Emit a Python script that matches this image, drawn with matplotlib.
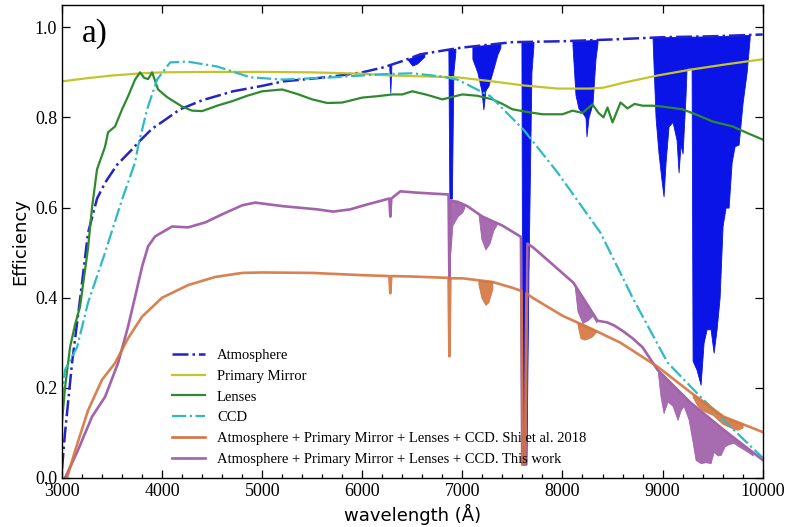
"""Throughput of the telescope chain: atmosphere, mirror, lenses, CCD."""

import matplotlib

matplotlib.use("Agg")

import matplotlib.pyplot as plt
from matplotlib.lines import Line2D
from matplotlib.ticker import MultipleLocator
import numpy as np


# Atmosphere continuum (dash-dot) and its absorption bands (floors)
ATM_WAVE = [3000, 3030, 3100, 3180, 3260, 3350, 3430, 3550, 3700, 3760, 3900, 4000,
            4180, 4400, 4710, 5000, 5210, 5500, 5710, 6000, 6210, 6400, 6580, 6880,
            7000, 7500, 8000, 8500, 9000, 9500, 10000]
ATM_EFF = [0.02, 0.10, 0.255, 0.396, 0.544, 0.62, 0.655, 0.695, 0.729, 0.744, 0.775, 0.79,
           0.818, 0.838, 0.858, 0.870, 0.88, 0.886, 0.891, 0.90, 0.911, 0.925, 0.94, 0.951,
           0.955, 0.967, 0.969, 0.973, 0.978, 0.98, 0.984]

ATM_BAND_WAVES = [
    [6270, 6280, 6290],
    [6450, 6500, 6550, 6620],
    [6860, 6870, 6895, 6910, 6930],
    [7100, 7150, 7190, 7210, 7230, 7260, 7300, 7350, 7380],
    [7590, 7600, 7640, 7660, 7690, 7710],
    [8100, 8130, 8160, 8200, 8230, 8240, 8260, 8300, 8330, 8350],
    [8900, 8930, 8960, 8990, 9010, 9030, 9060, 9100, 9140, 9160, 9180, 9200, 9230,
     9240, 9290, 9300, 9340, 9380, 9410, 9440, 9480, 9510, 9540, 9570, 9600, 9630,
     9660, 9690, 9720, 9760, 9800, 9840, 9870],
]
ATM_BAND_FLOORS = [
    [0.91, 0.855, 0.91],
    [0.93, 0.915, 0.92, 0.935],
    [0.95, 0.62, 0.62, 0.90, 0.945],
    [0.93, 0.90, 0.86, 0.818, 0.86, 0.87, 0.90, 0.94, 0.955],
    [0.96, 0.03, 0.03, 0.45, 0.90, 0.96],
    [0.96, 0.85, 0.82, 0.81, 0.80, 0.758, 0.80, 0.83, 0.93, 0.965],
    [0.975, 0.80, 0.72, 0.66, 0.625, 0.70, 0.78, 0.79, 0.75, 0.678, 0.74, 0.72, 0.85,
     0.91, 0.91, 0.26, 0.24, 0.207, 0.30, 0.33, 0.33, 0.278, 0.33, 0.40, 0.56, 0.60,
     0.60, 0.70, 0.736, 0.74, 0.833, 0.90, 0.975],
]

MIRROR_WAVE = [3000, 3250, 3500, 3800, 4000, 4500, 5000, 5500, 6000, 6280, 6950, 7300,
               7610, 7950, 8280, 8410, 8610, 8950, 9280, 9610, 10000]
MIRROR_EFF = [0.88, 0.887, 0.893, 0.898, 0.90, 0.901, 0.901, 0.90, 0.897, 0.893, 0.889,
              0.88, 0.871, 0.864, 0.864, 0.866, 0.877, 0.893, 0.906, 0.917, 0.929]

LENS_WAVE = [2990, 3030, 3080, 3130, 3180, 3260, 3300, 3350, 3430, 3460, 3530, 3600,
             3660, 3730, 3780, 3820, 3860, 3900, 3960, 4050, 4200, 4300, 4400, 4550,
             4700, 4850, 5000, 5200, 5350, 5500, 5650, 5800, 6000, 6150, 6300, 6400,
             6500, 6650, 6800, 7000, 7150, 7300, 7400, 7500, 7650, 7800, 8000, 8100,
             8200, 8300, 8360, 8410, 8450, 8500, 8580, 8650, 8720, 8800, 8900, 9000,
             9200, 9350, 9500, 9700, 9850, 10000]
LENS_EFF = [0.10, 0.20, 0.29, 0.34, 0.38, 0.51, 0.60, 0.685, 0.735, 0.767, 0.78, 0.818,
            0.847, 0.884, 0.90, 0.888, 0.885, 0.90, 0.862, 0.845, 0.824, 0.815, 0.814, 0.826,
            0.836, 0.848, 0.858, 0.862, 0.852, 0.84, 0.832, 0.833, 0.844, 0.847, 0.851, 0.851,
            0.858, 0.85, 0.84, 0.851, 0.848, 0.84, 0.83, 0.818, 0.812, 0.807, 0.807, 0.815,
            0.81, 0.829, 0.81, 0.80, 0.822, 0.789, 0.833, 0.82, 0.83, 0.826, 0.826, 0.824,
            0.818, 0.805, 0.791, 0.78, 0.765, 0.751]

CCD_WAVE = [3000, 3030, 3150, 3260, 3430, 3600, 3730, 3760, 3850, 3950, 4080, 4250,
            4550, 4880, 5210, 5710, 6210, 6500, 6780, 6950, 7280, 7610, 7950, 8380,
            8710, 9050, 9380, 9710, 10000]
CCD_EFF = [0.17, 0.24, 0.29, 0.389, 0.50, 0.618, 0.70, 0.736, 0.818, 0.884, 0.922, 0.924,
           0.913, 0.889, 0.884, 0.889, 0.896, 0.898, 0.891, 0.884, 0.847, 0.773, 0.678, 0.544,
           0.396, 0.256, 0.18, 0.107, 0.045]

# Shi et al. 2018 total throughput
SHI_WAVE = [3050, 3130, 3260, 3400, 3530, 3660, 3800, 4000, 4260, 4530, 4800, 5000,
            5500, 6000, 6270, 6280, 6290, 6500, 6862, 6870, 6880, 7000, 7300, 7500,
            7590, 7605, 7625, 7640, 7700, 8000, 8300, 8580, 8950, 9280, 9610, 10000]
SHI_EFF = [0.0, 0.06, 0.15, 0.218, 0.255, 0.31, 0.358, 0.40, 0.428, 0.446, 0.455, 0.456,
           0.455, 0.45, 0.448, 0.41, 0.448, 0.447, 0.444, 0.27, 0.443, 0.443, 0.435, 0.422,
           0.415, 0.03, 0.03, 0.41, 0.40, 0.36, 0.33, 0.30, 0.247, 0.19, 0.136, 0.102]
SHI_BAND_WAVES = [
    [7160, 7190, 7230, 7260, 7300],
    [8150, 8180, 8220, 8260, 8300, 8340],
    [9300, 9350, 9400, 9450, 9500, 9550, 9600, 9650, 9700, 9750, 9800],
]
SHI_BAND_FLOORS = [
    [0.43, 0.40, 0.384, 0.39, 0.42],
    [0.34, 0.31, 0.307, 0.31, 0.315, 0.325],
    [0.18, 0.16, 0.15, 0.145, 0.14, 0.13, 0.12, 0.115, 0.11, 0.107, 0.112],
]

# This work total throughput
WORK_WAVE = [3030, 3160, 3300, 3430, 3560, 3660, 3730, 3800, 3860, 3930, 4100, 4260,
             4430, 4600, 4800, 4930, 5210, 5550, 5710, 5880, 6050, 6270, 6280, 6290,
             6380, 6550, 6862, 6870, 6880, 6950, 7050, 7200, 7400, 7585, 7598, 7630,
             7650, 7710, 7880, 8110, 8350, 8450, 8520, 8610, 8700, 8800, 8950, 9280,
             9610, 10000]
WORK_EFF = [0.0, 0.062, 0.136, 0.18, 0.255, 0.336, 0.402, 0.469, 0.514, 0.536, 0.558, 0.556,
            0.567, 0.585, 0.605, 0.611, 0.603, 0.596, 0.591, 0.596, 0.607, 0.62, 0.58, 0.62,
            0.636, 0.633, 0.629, 0.44, 0.615, 0.613, 0.603, 0.58, 0.56, 0.535, 0.03, 0.03,
            0.52, 0.511, 0.478, 0.433, 0.349, 0.345, 0.338, 0.325, 0.31, 0.29, 0.24, 0.167,
            0.107, 0.04]
WORK_BAND_WAVES = [
    [6880, 6900, 6950, 7000, 7020],
    [7160, 7190, 7230, 7270, 7310, 7350, 7380],
    [8120, 8150, 8200, 8250, 8300, 8340],
    [8950, 8980, 9010, 9050, 9100, 9150, 9180, 9210, 9260, 9300, 9330, 9380, 9430,
     9480, 9510, 9550, 9580, 9620, 9660, 9710, 9760, 9800, 9850, 9900],
]
WORK_BAND_FLOORS = [
    [0.50, 0.56, 0.58, 0.59, 0.60],
    [0.59, 0.53, 0.507, 0.52, 0.55, 0.57, 0.58],
    [0.43, 0.37, 0.344, 0.35, 0.36, 0.345],
    [0.24, 0.18, 0.144, 0.17, 0.16, 0.129, 0.15, 0.16, 0.13, 0.08, 0.04, 0.033, 0.035,
     0.033, 0.058, 0.05, 0.051, 0.07, 0.075, 0.078, 0.07, 0.065, 0.058, 0.05],
]

LEGEND_LABELS = [
    "Atmosphere",
    "Primary Mirror",
    "Lenses",
    "CCD",
    "Atmosphere + Primary Mirror + Lenses + CCD. Shi et al. 2018",
    "Atmosphere + Primary Mirror + Lenses + CCD. This work",
]

C_ATM = "#2323c8"
C_BAND = "#0a14e6"
C_MIRROR = "#c4c42a"
C_LENS = "#2f8a2f"
C_CCD = "#2ebac4"
C_SHI = "#d4743e"
C_WORK = "#a263ab"

SERIF = "Liberation Serif"


def fill_bands(ax, cont_wave, cont_eff, waves, floors, color, alpha=1.0):
    for w, f in zip(waves, floors):
        w = np.asarray(w, dtype=float)
        top = np.interp(w, cont_wave, cont_eff)
        ax.fill_between(w, np.minimum(f, top), top, color=color, lw=0.6,
                        alpha=alpha, edgecolor=color)


def main() -> None:
    fig = plt.figure(figsize=(7.89, 5.27), dpi=100)
    ax = fig.add_axes([0.0786, 0.093, 0.888, 0.898])

    ax.plot(ATM_WAVE, ATM_EFF, "-.", color=C_ATM, lw=1.8)
    fill_bands(ax, ATM_WAVE, ATM_EFF, ATM_BAND_WAVES, ATM_BAND_FLOORS, C_BAND)
    ax.plot(MIRROR_WAVE, MIRROR_EFF, "-", color=C_MIRROR, lw=1.6)
    ax.plot(LENS_WAVE, LENS_EFF, "-", color=C_LENS, lw=1.6)
    ax.plot(CCD_WAVE, CCD_EFF, "-.", color=C_CCD, lw=1.6)

    ax.plot(WORK_WAVE, WORK_EFF, "-", color=C_WORK, lw=1.9)
    fill_bands(ax, WORK_WAVE, WORK_EFF, WORK_BAND_WAVES, WORK_BAND_FLOORS, C_WORK, 0.95)
    ax.plot(SHI_WAVE, SHI_EFF, "-", color=C_SHI, lw=1.9, alpha=0.9)
    fill_bands(ax, SHI_WAVE, SHI_EFF, SHI_BAND_WAVES, SHI_BAND_FLOORS, C_SHI, 0.9)

    ax.set_xlim(3000, 10000)
    ax.set_ylim(0.0, 1.05)
    ax.xaxis.set_major_locator(MultipleLocator(1000))
    ax.xaxis.set_minor_locator(MultipleLocator(200))
    ax.yaxis.set_major_locator(MultipleLocator(0.2))
    ax.tick_params(which="both", direction="in", top=True, right=True,
                   labelsize=13, width=0.9)
    ax.tick_params(which="major", length=6)
    ax.tick_params(which="minor", length=3, top=False)
    ax.set_xticks(ax.get_xticks())
    ax.set_xticklabels([str(int(t)) for t in ax.get_xticks()], fontfamily=SERIF)
    ax.set_yticks(ax.get_yticks())
    ax.set_yticklabels([f"{t:.1f}" for t in ax.get_yticks()], fontfamily=SERIF)
    ax.set_xlim(3000, 10000)
    ax.set_ylim(0.0, 1.05)
    for side in ax.spines.values():
        side.set_linewidth(1.0)

    ax.set_xlabel("wavelength (Å)", fontsize=13, fontfamily="DejaVu Sans", labelpad=3)
    ax.set_ylabel("Efficiency", fontsize=13, fontfamily="DejaVu Sans", labelpad=4)
    ax.text(0.028, 0.972, "a)", transform=ax.transAxes, fontsize=24,
            fontfamily=SERIF, va="top", ha="left")

    handles = [
        Line2D([], [], ls="-.", color=C_ATM, lw=1.8),
        Line2D([], [], ls="-", color=C_MIRROR, lw=1.6),
        Line2D([], [], ls="-", color=C_LENS, lw=1.6),
        Line2D([], [], ls="-.", color=C_CCD, lw=1.6),
        Line2D([], [], ls="-", color=C_SHI, lw=1.9),
        Line2D([], [], ls="-", color=C_WORK, lw=1.9),
    ]
    ax.legend(handles, LEGEND_LABELS, loc="lower left", bbox_to_anchor=(0.142, 0.004),
              frameon=False, prop={"family": SERIF, "size": 10.5},
              handlelength=2.3, labelspacing=0.52, handletextpad=0.8, borderpad=0.2)

    fig.savefig("out.png", dpi=100)
    plt.close(fig)


if __name__ == "__main__":
    main()
